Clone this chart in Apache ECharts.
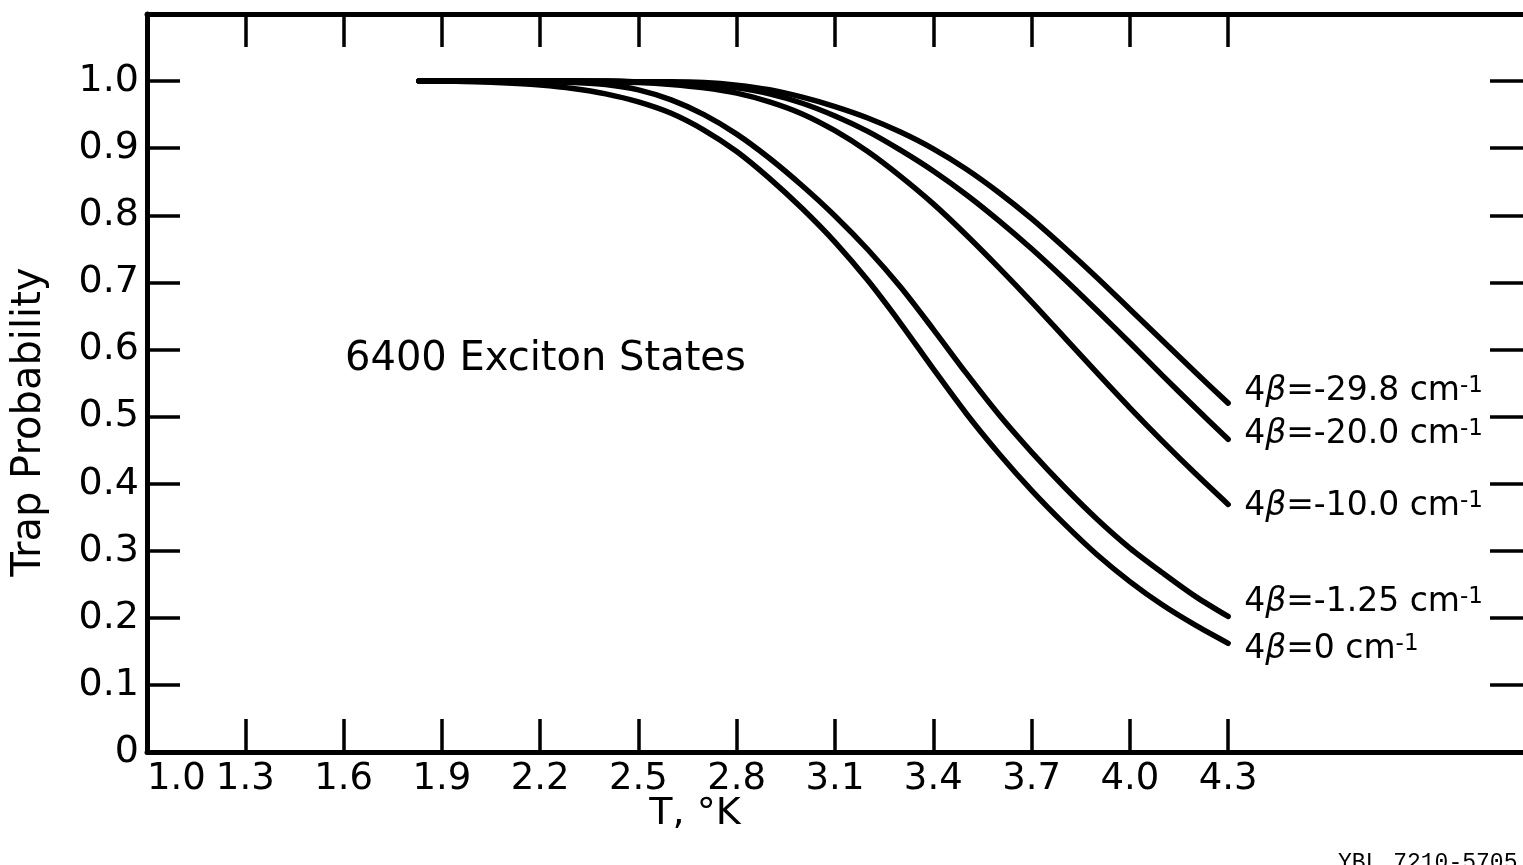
<!DOCTYPE html>
<html>
<head>
<meta charset="utf-8">
<title>Trap Probability vs T</title>
<script src="https://cdn.jsdelivr.net/npm/echarts@6/dist/echarts.min.js"></script>
<style>
  html, body { margin: 0; padding: 0; background: #fff; }
  #chart { width: 1523px; height: 865px; }
</style>
</head>
<body>
<div id="chart"></div>
<script>
const temps = [1.83, 1.9, 2.0, 2.1, 2.2, 2.3, 2.4, 2.5, 2.6, 2.7, 2.8, 2.9, 3.0, 3.1, 3.2, 3.3, 3.4, 3.5, 3.6, 3.7, 3.8, 3.9, 4.0, 4.1, 4.2, 4.3];

// Trap probability for each value of 4β
const beta298 = [1.0, 1.0, 1.0, 1.0, 1.0, 1.0, 1.0, 0.999, 0.999, 0.998, 0.994, 0.987, 0.976, 0.962, 0.945, 0.924, 0.899, 0.869, 0.834, 0.795, 0.752, 0.707, 0.660, 0.613, 0.566, 0.520];
const beta200 = [1.0, 1.0, 1.0, 1.0, 1.0, 1.0, 1.0, 0.999, 0.998, 0.995, 0.990, 0.981, 0.967, 0.948, 0.925, 0.897, 0.866, 0.831, 0.792, 0.750, 0.705, 0.658, 0.610, 0.561, 0.513, 0.466];
const beta100 = [1.0, 1.0, 1.0, 1.0, 1.0, 1.0, 0.999, 0.998, 0.995, 0.990, 0.982, 0.969, 0.951, 0.926, 0.895, 0.858, 0.817, 0.771, 0.722, 0.671, 0.618, 0.565, 0.513, 0.463, 0.415, 0.369];
const beta125 = [1.0, 1.0, 1.0, 1.0, 0.999, 0.998, 0.995, 0.987, 0.972, 0.950, 0.921, 0.885, 0.844, 0.799, 0.749, 0.693, 0.630, 0.565, 0.503, 0.447, 0.395, 0.347, 0.304, 0.267, 0.232, 0.202];
const beta0 = [1.0, 1.0, 0.999, 0.997, 0.994, 0.989, 0.981, 0.969, 0.952, 0.927, 0.895, 0.855, 0.810, 0.760, 0.703, 0.639, 0.571, 0.505, 0.445, 0.390, 0.340, 0.294, 0.254, 0.219, 0.189, 0.162];

const curveNames = ["-29.8", "-20.0", "-10.0", "-1.25", "0"];

// Tick labels
const xLabelValues = [1.0, 1.3, 1.6, 1.9, 2.2, 2.5, 2.8, 3.1, 3.4, 3.7, 4.0, 4.3];
const xTickValues = [1.3, 1.6, 1.9, 2.2, 2.5, 2.8, 3.1, 3.4, 3.7, 4.0, 4.3];
const yLabelValues = [0, 0.1, 0.2, 0.3, 0.4, 0.5, 0.6, 0.7, 0.8, 0.9, 1.0];
const yTickValues = [0.1, 0.2, 0.3, 0.4, 0.5, 0.6, 0.7, 0.8, 0.9, 1.0];

const font = "DejaVu Sans";
const ink = "#000";

const chart = echarts.init(document.getElementById("chart"));

// label offsets next to the end of each curve
const labelOffsets = [[8, -12], [8, -5], [8, 2], [8, -14], [8, 6]];

const curves = [beta298, beta200, beta100, beta125, beta0];

const series = curves.map((vals, i) => ({
  name: "4β=" + curveNames[i],
  type: "line",
  smooth: 0.3,
  showSymbol: false,
  silent: true,
  lineStyle: { color: ink, width: 5.5, cap: "round" },
  data: temps.map((t, k) => [t, vals[k]]),
  endLabel: {
    show: true,
    offset: labelOffsets[i],
    formatter: "{n|4}{g|β}{n|=" + curveNames[i] + " cm}{s|-1}",
    rich: {
      n: { fontFamily: font, fontSize: 33, color: ink },
      g: { fontFamily: font, fontSize: 33, fontStyle: "italic", color: ink },
      s: { fontFamily: font, fontSize: 23, color: ink, verticalAlign: "top" },
    },
  },
}));

function axisBase(extra) {
  return Object.assign(
    {
      type: "value",
      axisLine: { show: true, onZero: false, lineStyle: { color: ink, width: 5 } },
      splitLine: { show: false },
    },
    extra
  );
}

const tickStyle = { color: ink, width: 3.5 };

const option = {
  animation: false,
  backgroundColor: "#fff",
  grid: { left: 147, top: 14, width: 1379, height: 738 },
  xAxis: [
    axisBase({
      min: 1.0,
      max: 5.2,
      position: "bottom",
      axisTick: { inside: true, length: 33, customValues: xTickValues, lineStyle: tickStyle },
      axisLabel: {
        customValues: xLabelValues,
        formatter: (v) => v.toFixed(1),
        fontFamily: font,
        fontSize: 37,
        color: ink,
        margin: 9,
        alignMinLabel: "left",
      },
    }),
    axisBase({
      min: 1.0,
      max: 5.2,
      position: "top",
      axisTick: { inside: true, length: 33, customValues: xTickValues, lineStyle: tickStyle },
      axisLabel: { show: false },
    }),
  ],
  yAxis: [
    axisBase({
      min: 0,
      max: 1.1,
      position: "left",
      axisTick: { inside: true, length: 33, customValues: yTickValues, lineStyle: tickStyle },
      axisLabel: {
        customValues: yLabelValues,
        formatter: (v) => (v === 0 ? "0" : v.toFixed(1)),
        fontFamily: font,
        fontSize: 38,
        color: ink,
        margin: 8,
      },
    }),
    axisBase({
      min: 0,
      max: 1.1,
      position: "right",
      axisLine: { show: false },
      axisTick: { inside: true, length: 33, customValues: yTickValues, lineStyle: tickStyle },
      axisLabel: { show: false },
    }),
  ],
  graphic: [
    {
      type: "text",
      x: 30,
      y: 422,
      rotation: Math.PI / 2,
      style: { text: "Trap Probability", font: "40px " + font, fill: ink, align: "center", verticalAlign: "middle" },
    },
    {
      type: "text",
      x: 345,
      y: 360,
      style: { text: "6400 Exciton States", font: "40px " + font, fill: ink, verticalAlign: "middle" },
    },
    {
      type: "text",
      x: 695,
      y: 814,
      style: { text: "T, °K", font: "38px " + font, fill: ink, align: "center", verticalAlign: "middle" },
    },
    {
      type: "text",
      x: 1338,
      y: 851,
      style: { text: "YBL 7210-5705", font: "23px Liberation Mono", fill: ink },
    },
  ],
  series: series,
};

chart.setOption(option);
</script>
</body>
</html>
